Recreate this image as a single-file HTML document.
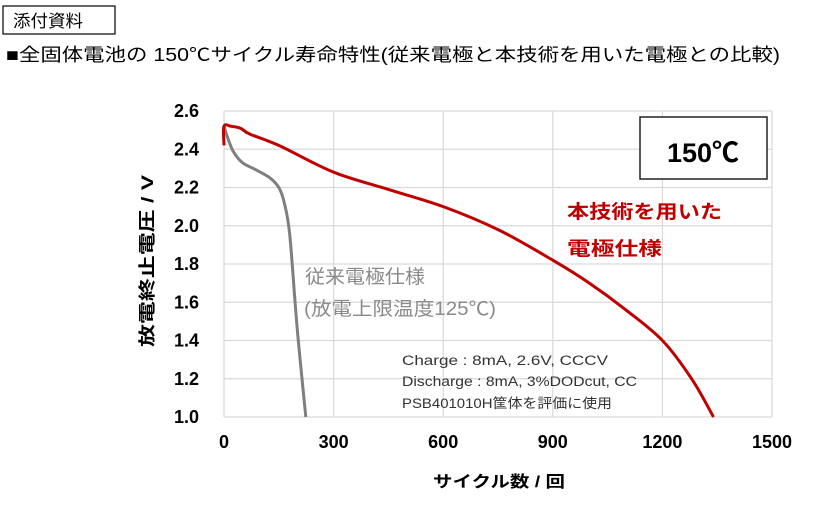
<!DOCTYPE html>
<html><head><meta charset="utf-8"><style>
body{margin:0;background:#fff;width:823px;height:502px;overflow:hidden;font-family:"Liberation Sans","Noto Sans CJK JP",sans-serif}
</style></head><body>
<svg width="823" height="502" xmlns="http://www.w3.org/2000/svg" font-family="Liberation Sans, Noto Sans CJK JP, sans-serif">
<rect x="3" y="6" width="112" height="28" fill="#fff" stroke="#000" stroke-width="1.2"/>
<text x="13" y="27" font-size="17" textLength="70" lengthAdjust="spacingAndGlyphs">添付資料</text>
<text x="6" y="61" font-size="18" textLength="774" lengthAdjust="spacingAndGlyphs">■全固体電池の 150℃サイクル寿命特性(従来電極と本技術を用いた電極との比較)</text>
<g id="grid"></g>
<g id="series"></g>
<g id="ticks"></g>
<rect x="640" y="117" width="127" height="62" fill="#fff" stroke="#222" stroke-width="1.5"/>
<text x="703" y="162" font-size="27" font-weight="bold" text-anchor="middle">150℃</text>
<text x="567" y="218" font-size="19" font-weight="bold" fill="#c00000" textLength="155" lengthAdjust="spacingAndGlyphs">本技術を用いた</text>
<text x="567" y="255" font-size="19" font-weight="bold" fill="#c00000" textLength="95" lengthAdjust="spacingAndGlyphs">電極仕様</text>
<text x="305" y="283" font-size="19" fill="#8a8a8a" textLength="120" lengthAdjust="spacingAndGlyphs">従来電極仕様</text>
<text x="304" y="315" font-size="19" fill="#8a8a8a" textLength="192" lengthAdjust="spacingAndGlyphs">(放電上限温度125℃)</text>
<text x="402" y="365" font-size="13.5" fill="#333" textLength="206" lengthAdjust="spacingAndGlyphs">Charge : 8mA, 2.6V, CCCV</text>
<text x="402" y="386" font-size="13.5" fill="#333" textLength="235" lengthAdjust="spacingAndGlyphs">Discharge : 8mA, 3%DODcut, CC</text>
<text x="402" y="408" font-size="13.5" fill="#333" textLength="210" lengthAdjust="spacingAndGlyphs">PSB401010H筐体を評価に使用</text>
<text x="499" y="487" font-size="16" font-weight="bold" text-anchor="middle" textLength="132" lengthAdjust="spacingAndGlyphs">サイクル数 / 回</text>
<text transform="translate(153,261) rotate(-90)" font-size="17" font-weight="bold" text-anchor="middle" textLength="172" lengthAdjust="spacingAndGlyphs">放電終止電圧 / V</text>
</svg>
<script>
const xTicks=[0,300,600,900,1200,1500];
const yTicks=[1.0,1.2,1.4,1.6,1.8,2.0,2.2,2.4,2.6];
const redCycles=[0,0,20,45,70,150,300,450,600,750,900,1000,1100,1200,1280,1340];
const redVolts=[2.42,2.52,2.52,2.51,2.48,2.42,2.28,2.19,2.10,1.98,1.82,1.70,1.56,1.40,1.20,1.0];
const grayCycles=[0,10,25,50,90,126,150,165,180,200,224];
const grayVolts=[2.52,2.46,2.39,2.33,2.29,2.25,2.20,2.12,1.95,1.47,1.0];
const L=224,R=772,T=111,B=417;
const xs=c=>L+c/1500*(R-L), ys=v=>B-(v-1.0)/1.6*(B-T);
const NS="http://www.w3.org/2000/svg";
const g=document.getElementById('grid'),t=document.getElementById('ticks'),s=document.getElementById('series');
function mk(tag,attrs,parent){const e=document.createElementNS(NS,tag);for(const k in attrs)e.setAttribute(k,attrs[k]);parent.appendChild(e);return e;}
xTicks.forEach(c=>{
 const l=mk('line',{x1:xs(c),x2:xs(c),y1:T,y2:B,stroke:'#d9d9d9','stroke-width':1.2},g);
 
 
 const tx=mk('text',{x:xs(c),y:448,'font-size':18,'font-weight':'bold','text-anchor':'middle'},t);
 tx.textContent=c;
 
 
});
yTicks.forEach(v=>{
 const l=mk('line',{x1:L,x2:R,y1:ys(v),y2:ys(v),stroke:'#d9d9d9','stroke-width':1.2},g);
 
 
 const tx=mk('text',{x:199,y:ys(v)+6,'font-size':18,'font-weight':'bold','text-anchor':'end'},t);
 tx.textContent=v.toFixed(1);
 
 
});
function path(cs,vs,col,name){
 const P=cs.map((c,i)=>[xs(c),ys(vs[i])]);
 let d='M'+P[0][0].toFixed(1)+','+P[0][1].toFixed(1);
 for(let i=0;i<P.length-1;i++){
  const p0=P[Math.max(0,i-1)],p1=P[i],p2=P[i+1],p3=P[Math.min(P.length-1,i+2)];
  const c1=[p1[0]+(p2[0]-p0[0])/6,p1[1]+(p2[1]-p0[1])/6];
  const c2=[p2[0]-(p3[0]-p1[0])/6,p2[1]-(p3[1]-p1[1])/6];
  d+=' C'+c1.map(n=>n.toFixed(1)).join(',')+' '+c2.map(n=>n.toFixed(1)).join(',')+' '+p2.map(n=>n.toFixed(1)).join(',');
 }
 const p=mk('path',{d:d,fill:'none',stroke:col,'stroke-width':3,'stroke-linejoin':'round'},s);
 
 
}
path(grayCycles,grayVolts,'#7f7f7f','conventional-line');
path(redCycles,redVolts,'#c00000','new-tech-line');
</script>
</body></html>
